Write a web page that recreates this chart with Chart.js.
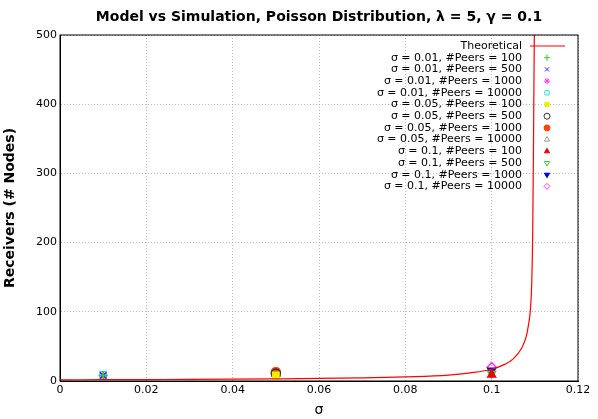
<!DOCTYPE html>
<html>
<head>
<meta charset="utf-8">
<script src="https://cdn.jsdelivr.net/npm/chart.js@4/dist/chart.umd.min.js"></script>
<style>
  body { margin: 0; background: #fff; }
  #wrap { width: 598px; height: 419px; }
</style>
</head>
<body>
<div id="wrap"><canvas id="c"></canvas></div>
<script>
// Theoretical curve
const theoX = [0, 0.01, 0.02, 0.03, 0.04, 0.05, 0.06, 0.07, 0.08, 0.09, 0.095, 0.1, 0.103, 0.105, 0.107, 0.108, 0.1085, 0.109, 0.1093, 0.1095, 0.1097, 0.1099];
const theoY = [1.7, 1.9, 2.1, 2.3, 2.6, 3.1, 3.7, 4.6, 6, 8.5, 11.7, 17, 24, 32, 48, 64, 80, 105, 145, 210, 350, 520];

// Simulation results
const simLabels = [
  'σ = 0.01, #Peers = 100', 'σ = 0.01, #Peers = 500', 'σ = 0.01, #Peers = 1000', 'σ = 0.01, #Peers = 10000',
  'σ = 0.05, #Peers = 100', 'σ = 0.05, #Peers = 500', 'σ = 0.05, #Peers = 1000', 'σ = 0.05, #Peers = 10000',
  'σ = 0.1, #Peers = 100', 'σ = 0.1, #Peers = 500', 'σ = 0.1, #Peers = 1000', 'σ = 0.1, #Peers = 10000'
];
const simX = [0.01, 0.01, 0.01, 0.01, 0.05, 0.05, 0.05, 0.05, 0.1, 0.1, 0.1, 0.1];
const simY = [8, 8, 8, 9, 8, 11, 13, 10, 9, 11, 15, 20];

const simStyles = [
  { style: 'cross', color: '#33cc33', fill: false, rot: 0 },
  { style: 'crossRot', color: '#3333ff', fill: false, rot: 0 },
  { style: 'star', color: '#ff33ff', fill: false, rot: 0 },
  { style: 'rect', color: '#33dddd', fill: false, rot: 0 },
  { style: 'rect', color: '#eeee00', fill: true, rot: 0 },
  { style: 'circle', color: '#333333', fill: false, rot: 0 },
  { style: 'circle', color: '#ff4400', fill: true, rot: 0 },
  { style: 'triangle', color: '#999999', fill: false, rot: 0 },
  { style: 'triangle', color: '#ee0000', fill: true, rot: 0 },
  { style: 'triangle', color: '#33cc33', fill: false, rot: 180 },
  { style: 'triangle', color: '#0000dd', fill: true, rot: 180 },
  { style: 'rectRot', color: '#ff33ff', fill: false, rot: 0 }
];

const datasets = [{
  label: 'Theoretical',
  type: 'line',
  data: theoX.map((x, i) => ({ x: x, y: theoY[i] })),
  borderColor: '#ff0000',
  borderWidth: 1.2,
  pointRadius: 0,
  cubicInterpolationMode: 'monotone',
  fill: false
}];
simLabels.forEach((lab, i) => {
  const s = simStyles[i];
  datasets.push({
    label: lab,
    data: [{ x: simX[i], y: simY[i] }],
    pointStyle: s.style,
    pointRotation: s.rot,
    pointRadius: 4.5,
    borderColor: s.color,
    backgroundColor: s.fill ? s.color : 'rgba(0,0,0,0)',
    borderWidth: 1.5
  });
});

const gnuLegend = {
  id: 'gnuLegend',
  afterDraw(chart) {
    const ctx = chart.ctx;
    ctx.save();
    ctx.fillStyle = '#000';
    ctx.font = 'bold 14px "DejaVu Sans", sans-serif';
    ctx.textAlign = 'center';
    ctx.textBaseline = 'middle';
    ctx.fillText('Model vs Simulation, Poisson Distribution, λ = 5, γ = 0.1', 319, 17);

    ctx.font = '11px "DejaVu Sans", sans-serif';
    ctx.textAlign = 'right';
    chart.data.datasets.forEach((ds, i) => {
      const y = 46 + i * 11.7;
      ctx.fillStyle = '#000';
      ctx.fillText(ds.label, 522, y);
      if (i === 0) {
        ctx.strokeStyle = ds.borderColor;
        ctx.lineWidth = 1.2;
        ctx.beginPath();
        ctx.moveTo(530, y); ctx.lineTo(565, y);
        ctx.stroke();
      } else {
        ctx.strokeStyle = ds.borderColor;
        ctx.fillStyle = ds.backgroundColor;
        ctx.lineWidth = 1;
        Chart.helpers.drawPoint(ctx, { pointStyle: ds.pointStyle, rotation: ds.pointRotation, radius: 3, borderWidth: 1 }, 547, y);
      }
    });
    ctx.restore();
  }
};

new Chart(document.getElementById('c'), {
  type: 'scatter',
  data: { datasets: datasets },
  options: {
    responsive: true,
    maintainAspectRatio: false,
    animation: false,
    layout: { padding: { top: 35, right: 20, left: 0, bottom: 0 } },
    plugins: { legend: { display: false }, tooltip: { enabled: false } },
    scales: {
      x: {
        type: 'linear', min: 0, max: 0.12,
        ticks: { stepSize: 0.02, color: '#000', font: { size: 11, family: 'DejaVu Sans' },
          callback: v => Number(v.toFixed(2)).toString() },
        grid: { color: '#bbb', drawTicks: false },
        border: { display: true, color: '#000', dash: [1, 2] },
        title: { display: true, text: 'σ', color: '#000', font: { size: 14, family: 'DejaVu Sans' }, padding: 0 },
        afterFit(s) { s.height = 38; }
      },
      y: {
        min: 0, max: 500,
        ticks: { stepSize: 100, color: '#000', font: { size: 11, family: 'DejaVu Sans' } },
        grid: { color: '#bbb', drawTicks: false },
        border: { display: true, color: '#000', dash: [1, 2] },
        title: { display: true, text: 'Receivers (# Nodes)', color: '#000', font: { size: 14, weight: 'bold', family: 'DejaVu Sans' }, padding: 2 },
        afterFit(s) { s.width = 60; }
      }
    }
  },
  plugins: [gnuLegend, {
    id: 'frame',
    afterDraw(chart) {
      const a = chart.chartArea, ctx = chart.ctx;
      ctx.save();
      ctx.strokeStyle = '#000';
      ctx.lineWidth = 1;
      ctx.strokeRect(a.left, a.top, a.right - a.left, a.bottom - a.top);
      ctx.restore();
    }
  }]
});
</script>
</body>
</html>
